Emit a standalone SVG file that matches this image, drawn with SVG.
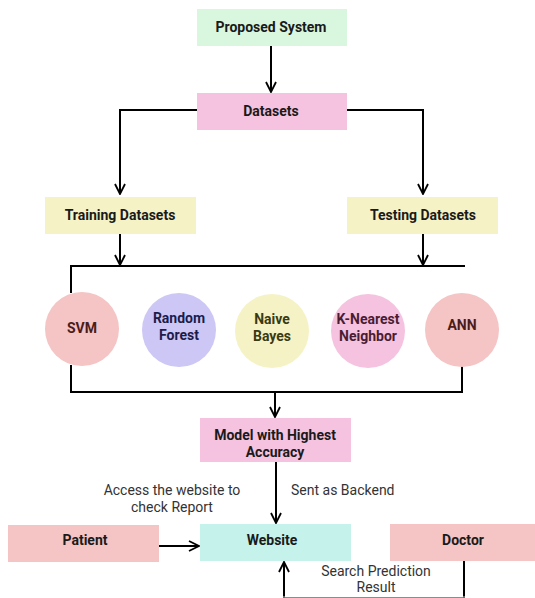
<svg xmlns="http://www.w3.org/2000/svg" width="535" height="598" viewBox="0 0 535 598">
<defs>
<marker id="ah" viewBox="0 0 12 12" refX="11" refY="6" markerWidth="12" markerHeight="12" markerUnits="userSpaceOnUse" orient="auto">
<path d="M1,1 L11,6 L1,11" fill="none" stroke="#000" stroke-width="1.8"/>
</marker>
<style>
.t{font-family:Roboto,"Liberation Sans",sans-serif;font-size:14px;font-weight:bold;fill:#1a1a1a;text-anchor:middle}
.l{font-family:Roboto,"Liberation Sans",sans-serif;font-size:14px;fill:#333;text-anchor:middle}
.c{fill:none;stroke:#000;stroke-width:2}
</style>
</defs>
<rect width="535" height="598" fill="#fff"/>
<g id="connectors">
<path class="c" d="M271,46 V92" marker-end="url(#ah)"/>
<path class="c" d="M197,110 H120 V194" marker-end="url(#ah)"/>
<path class="c" d="M347,110 H423 V194" marker-end="url(#ah)"/>
<path class="c" d="M120,234 V265" marker-end="url(#ah)"/>
<path class="c" d="M423,234 V265" marker-end="url(#ah)"/>
<path class="c" d="M71,293 V266 H465"/>
<path class="c" d="M71,365 V392 H462 V366"/>
<path class="c" d="M275,392 V417" marker-end="url(#ah)"/>
<path class="c" d="M276,462 V523" marker-end="url(#ah)"/>
<path class="c" d="M159,546 H199" marker-end="url(#ah)"/>
<path class="c" d="M464,561 V598.3 H284 V562" marker-end="url(#ah)" stroke-opacity="0.6"/>
<path class="c" d="M464,561 V596 M284,596 V562"/>
<text class="l" x="172" y="495">Access the website to</text>
<text class="l" x="172" y="512">check Report</text>
<text class="l" x="291" y="495" style="text-anchor:start">Sent as Backend</text>
<text class="l" x="376" y="576">Search Prediction</text>
<text class="l" x="376" y="592">Result</text>
</g>
<g id="proposed"><rect x="197" y="9" width="150" height="37" fill="#d9f7df"/><text class="t" x="271" y="32">Proposed System</text></g>
<g id="datasets"><rect x="197" y="93" width="150" height="37" fill="#f5c3df"/><text class="t" x="271" y="116">Datasets</text></g>
<g id="training"><rect x="45" y="197" width="151" height="37" fill="#f5f3c5"/><text class="t" x="120" y="220">Training Datasets</text></g>
<g id="testing"><rect x="347" y="197" width="151" height="37" fill="#f5f3c5"/><text class="t" x="423" y="220">Testing Datasets</text></g>
<g id="svm"><circle cx="82" cy="329" r="37" fill="#f5c4c4"/><text class="t" x="82" y="333" style="fill:#4a1c1c">SVM</text></g>
<g id="rf"><circle cx="179" cy="330" r="37" fill="#cdc7f5"/><text class="t" x="179" y="323" style="fill:#1c1c4a">Random</text><text class="t" x="179" y="340" style="fill:#1c1c4a">Forest</text></g>
<g id="nb"><circle cx="272" cy="331" r="37" fill="#f5f3c5"/><text class="t" x="272" y="324" style="fill:#3a3a12">Naive</text><text class="t" x="272" y="341" style="fill:#3a3a12">Bayes</text></g>
<g id="knn"><circle cx="368" cy="331" r="37" fill="#f5c3df"/><text class="t" x="368" y="324" style="fill:#4a1c33">K-Nearest</text><text class="t" x="368" y="341" style="fill:#4a1c33">Neighbor</text></g>
<g id="ann"><circle cx="462" cy="330" r="37" fill="#f5c4c4"/><text class="t" x="462" y="330" style="fill:#4a1c1c">ANN</text></g>
<g id="model"><rect x="200" y="418" width="151" height="44" fill="#f5c3df"/><text class="t" x="275" y="440">Model with Highest</text><text class="t" x="275" y="457">Accuracy</text></g>
<g id="patient"><rect x="8" y="525" width="151" height="37" fill="#f5c4c4"/><text class="t" x="85" y="545">Patient</text></g>
<g id="website"><rect x="200" y="524" width="151" height="37" fill="#c5f3ec"/><text class="t" x="272" y="545">Website</text></g>
<g id="doctor"><rect x="390" y="524" width="145" height="37" fill="#f5c4c4"/><text class="t" x="463" y="545">Doctor</text></g>
</svg>
